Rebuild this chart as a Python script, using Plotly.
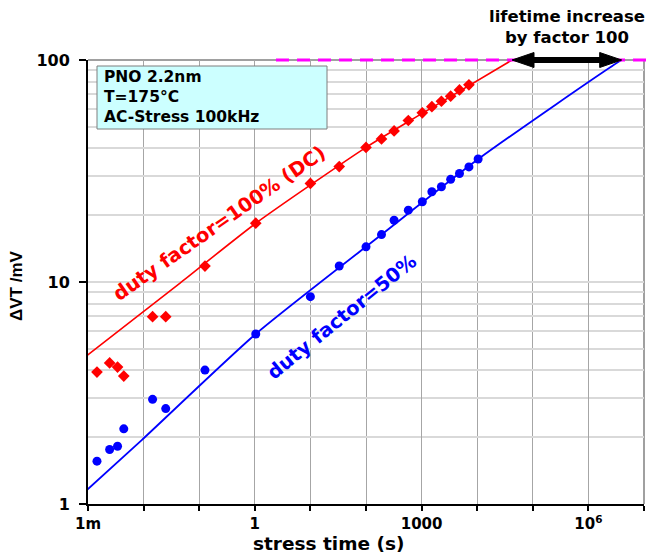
import numpy as np
import plotly.graph_objects as go

# ---------------- data ----------------
time_s = [1.45e-3, 2.45e-3, 3.4e-3, 4.4e-3, 0.0145, 0.025, 0.127, 1.04, 10, 33, 100,
          190, 320, 577, 1030, 1530, 2270, 3330, 4800, 7100, 10400]
dvt_dc = [3.93, 4.32, 4.14, 3.77, 6.98, 6.98, 11.8, 18.4, 27.8, 33.1, 40.4,
          44.1, 47.9, 53.4, 57.8, 61.6, 65.2, 68.7, 73.3, 77.3]
dvt_ac = [1.56, 1.76, 1.82, 2.18, 2.96, 2.69, 4.01, 5.83, 8.59, 11.8, 14.4,
          16.35, 18.97, 21.06, 23.0, 25.5, 26.85, 29.0, 30.8, 33.0, 35.8]

fit_t_dc = [8.47e-4, 0.0452, 1.047, 102, 1030, 42270]
fit_dc = [4.55, 9.89, 18.4, 40.5, 57.5, 100]
fit_t_ac = [8.47e-4, 9.25e-3, 1.037, 186, 10470, 3.97e6, 5.37e6]
fit_ac = [1.124, 1.94, 5.83, 16.28, 35.8, 100, 103.3]

failure_level = 100          # mV criterion
life_dc = 42270              # s, where DC fit reaches criterion
life_ac = 3.97e6             # s, where AC fit reaches criterion

x_tickvals = [1e-3, 1, 1e3, 1e6]
x_ticktext = ["1m", "1", "1000", "10<sup>6</sup>"]
x_minor = [1e-2, 1e-1, 10, 100, 1e4, 1e5, 1e7]
y_tickvals = [1, 10, 100]
y_ticktext = ["1", "10", "100"]
y_minor = [m * d for d in (1, 10) for m in range(2, 10)]

# ---------------- layout geometry helpers ----------------
W, H = 647, 554
L, R, T, B = 88, 3, 60, 50
PW, PH = W - L - R, H - T - B
XR = (-3, 7)
YR = (0, 2)


def px(p):  # pixel x -> paper
    return (p - L) / PW


def py(p):  # pixel y -> paper
    return (H - B - p) / PH


def tx(t):  # data time -> paper x
    return (np.log10(t) - XR[0]) / (XR[1] - XR[0])


def vy(v):  # data value -> paper y
    return (np.log10(v) - YR[0]) / (YR[1] - YR[0])


BOLD = "DejaVu Sans"

fig = go.Figure()

fig.add_trace(go.Scatter(x=fit_t_dc, y=fit_dc, mode="lines",
                         line=dict(color="#ff0000", width=1.6, shape="spline", smoothing=0.6),
                         showlegend=False, hoverinfo="skip"))
fig.add_trace(go.Scatter(x=fit_t_ac, y=fit_ac, mode="lines",
                         line=dict(color="#0000ff", width=1.8, shape="spline", smoothing=0.6),
                         showlegend=False, hoverinfo="skip"))
fig.add_trace(go.Scatter(x=time_s[:len(dvt_dc)], y=dvt_dc, mode="markers",
                         marker=dict(symbol="diamond", size=9, color="#ff0000"),
                         showlegend=False))
fig.add_trace(go.Scatter(x=time_s, y=dvt_ac, mode="markers",
                         marker=dict(symbol="circle", size=9, color="#0000ff"),
                         showlegend=False))

shapes = []
# plot frame (top and right in gray)
shapes.append(dict(type="line", xref="paper", yref="paper", x0=0, x1=1, y0=1, y1=1,
                   line=dict(color="#808080", width=1.5), layer="below"))
shapes.append(dict(type="line", xref="paper", yref="paper", x0=1, x1=1, y0=0, y1=1,
                   line=dict(color="#808080", width=1.5), layer="below"))
# failure criterion dashed line
shapes.append(dict(type="line", xref="paper", yref="paper",
                   x0=px(276), x1=px(647), y0=vy(failure_level), y1=vy(failure_level),
                   line=dict(color="#ff00ff", width=3, dash="13px,8px")))
# info box
shapes.append(dict(type="rect", xref="paper", yref="paper",
                   x0=px(97), x1=px(327), y0=py(129), y1=py(66),
                   fillcolor="#ccffff", line=dict(color="#7f7f7f", width=1)))
# double-headed arrow between lifetimes
xa, xb = tx(life_dc), tx(life_ac)
yc = vy(failure_level)
hl = 22 / PW
hh = 7.5 / PH
shapes.append(dict(type="line", xref="paper", yref="paper",
                   x0=xa + hl * 0.8, x1=xb - hl * 0.8, y0=yc, y1=yc,
                   line=dict(color="black", width=6)))
shapes.append(dict(type="path", xref="paper", yref="paper",
                   path=f"M {xa},{yc} L {xa + hl},{yc + hh} L {xa + hl},{yc - hh} Z",
                   fillcolor="black", line=dict(color="black", width=1)))
shapes.append(dict(type="path", xref="paper", yref="paper",
                   path=f"M {xb},{yc} L {xb - hl},{yc + hh} L {xb - hl},{yc - hh} Z",
                   fillcolor="black", line=dict(color="black", width=1)))

annotations = [
    dict(xref="paper", yref="paper", x=px(102), y=py(97.5), xanchor="left", yanchor="middle",
         align="left", showarrow=False, text="PNO 2.2nm<br>T=175°C<br>AC-Stress 100kHz",
         font=dict(family=BOLD, size=15.5, color="black", weight="bold")),
    dict(xref="paper", yref="paper", x=px(567), y=py(27), xanchor="center", yanchor="middle",
         align="center", showarrow=False, text="lifetime increase<br>by factor 100",
         font=dict(family=BOLD, size=16.5, color="black", weight="bold")),
    dict(xref="paper", yref="paper", x=px(219), y=py(223), xanchor="center", yanchor="middle",
         showarrow=False, text="duty factor=100% (DC)", textangle=-35,
         font=dict(family=BOLD, size=19.5, color="#ff0000", weight="bold")),
    dict(xref="paper", yref="paper", x=px(341), y=py(317), xanchor="center", yanchor="middle",
         showarrow=False, text="duty factor=50%", textangle=-39,
         font=dict(family=BOLD, size=19.5, color="#0000ff", weight="bold")),
    dict(xref="paper", yref="paper", x=px(328), y=py(543), xanchor="center", yanchor="middle",
         showarrow=False, text="stress time (s)",
         font=dict(family=BOLD, size=18.5, color="black", weight="bold")),
    dict(xref="paper", yref="paper", x=px(16), y=py(286), xanchor="center", yanchor="middle",
         showarrow=False, text="<b>ΔVT /mV</b>", textangle=-90,
         font=dict(family="Liberation Sans", size=17, color="black", weight="bold")),
]

fig.update_layout(
    width=W, height=H,
    margin=dict(l=L, r=R, t=T, b=B, pad=0),
    paper_bgcolor="white", plot_bgcolor="white",
    shapes=shapes, annotations=annotations,
    xaxis=dict(type="log", range=list(XR), tickvals=x_tickvals, ticktext=x_ticktext,
               ticks="outside", ticklen=5, tickwidth=2, tickcolor="black",
               showline=True, linecolor="black", linewidth=2,
               showgrid=True, gridcolor="#a6a6a6", gridwidth=1,
               minor=dict(tickvals=x_minor, showgrid=True, gridcolor="#a6a6a6", gridwidth=1,
                          ticks="outside", ticklen=5, tickwidth=2, tickcolor="black"),
               tickfont=dict(family=BOLD, size=15, color="black", weight="bold"),
               zeroline=False),
    yaxis=dict(type="log", range=list(YR), tickvals=y_tickvals, ticktext=y_ticktext,
               ticks="outside", ticklen=7, tickwidth=2, tickcolor="black",
               showline=True, linecolor="black", linewidth=2,
               showgrid=True, gridcolor="#d9d9d9", gridwidth=1.5,
               minor=dict(tickvals=y_minor, showgrid=True, gridcolor="#d9d9d9",
                          gridwidth=1.5, ticks=""),
               ticklabelstandoff=6,
               tickfont=dict(family=BOLD, size=16, color="black", weight="bold"),
               zeroline=False),
)

fig.write_html("out.html")
